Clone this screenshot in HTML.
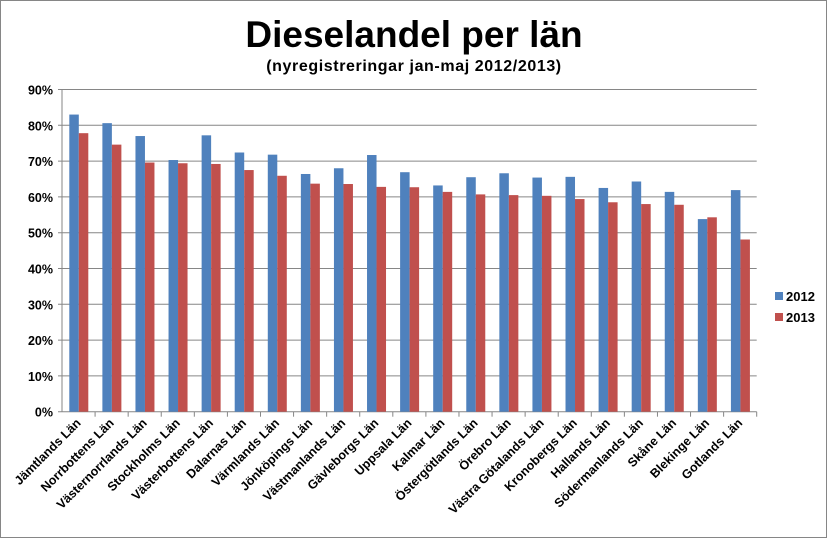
<!DOCTYPE html>
<html><head><meta charset="utf-8"><style>
body{margin:0;background:#fff}
svg{display:block;font-family:"Liberation Sans",Arial,sans-serif}
</style></head><body>
<svg id="c" width="828" height="539" viewBox="0 0 828 539" xmlns="http://www.w3.org/2000/svg">
<rect x="0.5" y="0.5" width="826" height="537" fill="#fff" stroke="#868686"/>
<text x="414" y="47" text-anchor="middle" font-size="37" font-weight="bold">Dieselandel per län</text>
<text x="414" y="71" text-anchor="middle" font-size="16" font-weight="bold" letter-spacing="0.6">(nyregistreringar jan-maj 2012/2013)</text>
<g id="g"></g>
<rect x="775" y="292" width="8" height="8" fill="#4f81bd"/>
<text x="786" y="301" font-size="13" font-weight="bold">2012</text>
<rect x="775" y="313" width="8" height="8" fill="#c0504d"/>
<text x="786" y="322" font-size="13" font-weight="bold">2013</text>
</svg>
<script>
var d=[["Jämtlands Län",83,77.8],["Norrbottens Län",80.6,74.6],["Västernorrlands Län",77,69.6],["Stockholms Län",70.3,69.4],["Västerbottens Län",77.2,69.2],["Dalarnas Län",72.4,67.5],["Värmlands Län",71.8,65.9],["Jönköpings Län",66.4,63.7],["Västmanlands Län",68,63.6],["Gävleborgs Län",71.7,62.8],["Uppsala Län",66.9,62.7],["Kalmar Län",63.2,61.4],["Östergötlands Län",65.5,60.7],["Örebro Län",66.6,60.5],["Västra Götalands Län",65.4,60.3],["Kronobergs Län",65.6,59.4],["Hallands Län",62.5,58.5],["Södermanlands Län",64.3,58],["Skåne Län",61.4,57.8],["Blekinge Län",53.8,54.3],["Gotlands Län",61.9,48.1]];
var L=62,R=756.7,T=89.5,B=411.7,s="",cw=(R-L)/21,u=(B-T)/90;
for(var i=0;i<=9;i++){var y=B-i*10*u;
 s+='<line x1="'+(L-4)+'" x2="'+R+'" y1="'+y+'" y2="'+y+'" stroke="#868686" stroke-width="1"/>';
 s+='<text x="'+(L-9)+'" y="'+(y+5)+'" text-anchor="end" font-size="12.5" font-weight="bold">'+(i*10)+'%</text>';}
s+='<line x1="'+L+'" x2="'+L+'" y1="'+T+'" y2="'+B+'" stroke="#868686"/>';
d.forEach(function(r,i){var x=L+i*cw;
 s+='<line x1="'+(x+cw)+'" x2="'+(x+cw)+'" y1="'+B+'" y2="'+(B+5)+'" stroke="#868686"/>';
 s+='<rect x="'+(x+7.3)+'" y="'+(B-r[1]*u)+'" width="9.5" height="'+(r[1]*u)+'" fill="#4f81bd"/>';
 s+='<rect x="'+(x+16.8)+'" y="'+(B-r[2]*u)+'" width="9.5" height="'+(r[2]*u)+'" fill="#c0504d"/>';
 var cx=x+cw/2+3,cy=B+12;
 s+='<text transform="translate('+cx+','+cy+') rotate(-45)" text-anchor="end" font-size="12.5" font-weight="bold">'+r[0]+'</text>';});
document.getElementById("g").innerHTML=s;
</script>
</body></html>
